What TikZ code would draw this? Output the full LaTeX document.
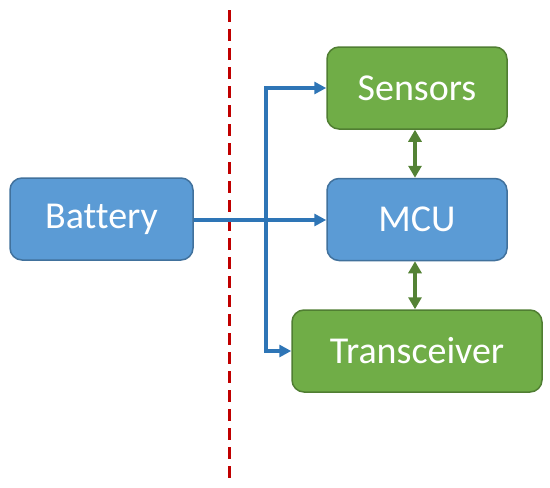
\documentclass[tikz,border=0pt]{standalone}
\usepackage{fontspec}
\setmainfont[Ligatures=NoCommon]{Carlito}
\usetikzlibrary{arrows.meta}
\definecolor{bfill}{HTML}{5B9BD5}
\definecolor{bdraw}{HTML}{41719C}
\definecolor{gfill}{HTML}{70AD47}
\definecolor{gdraw}{HTML}{507E32}
\definecolor{barrow}{HTML}{2E75B6}
\definecolor{garrow}{HTML}{548235}
\definecolor{dred}{HTML}{C00000}
\begin{document}
\begin{tikzpicture}[x=1pt,y=-1pt,
  box/.style={rounded corners=12pt, line width=1.5pt, minimum height=82pt, inner sep=0pt,
    text=white, font=\fontsize{38}{42}\selectfont},
  bluebox/.style={box, fill=bfill, draw=bdraw},
  greenbox/.style={box, fill=gfill, draw=gdraw},
  barr/.style={draw=barrow, line width=3.1pt, -{Triangle[length=12pt,width=12pt]}},
  garr/.style={draw=garrow, line width=3.5pt, {Triangle[length=12pt,width=13pt]}-{Triangle[length=12pt,width=13pt]}}
]
\useasboundingbox (0,0) rectangle (550,488);
\node[bluebox, minimum width=183pt] (bat) at (101.5,219) {Battery};
\node[greenbox, minimum width=180pt] (sens) at (417,88) {Sensors};
\node[bluebox, minimum width=180pt] (mcu) at (417,219.5) {MCU};
\node[greenbox, minimum width=250pt] (trans) at (417,351) {Transceiver};
\coordinate (dtop) at (229,10);
\coordinate (dbot) at (229,482);
\draw[dred, line width=3pt, dash pattern=on 12pt off 7pt] (dtop) -- (dbot);
\coordinate (j) at (266,220);
\draw[barr, line width=3.3pt] (bat.east |- j) -- (mcu.west |- j);
\draw[barr] (j) |- (sens.west);
\draw[barr] (j) |- (trans.west);
\draw[garr] (sens.south -| 415,0) -- (mcu.north -| 415,0);
\draw[garr] (mcu.south -| 415,0) -- (trans.north -| 415,0);
\end{tikzpicture}
\end{document}
